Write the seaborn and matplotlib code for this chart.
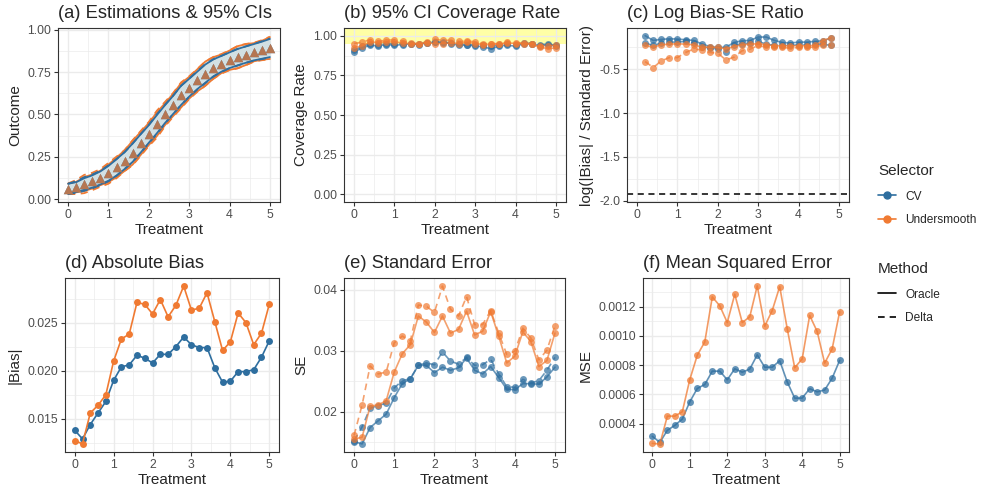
import numpy as np
import pandas as pd
import matplotlib.pyplot as plt
import seaborn as sns
from matplotlib.lines import Line2D
from matplotlib.ticker import MultipleLocator, FormatStrFormatter

# ---- data ----
treatment = [0.0, 0.2, 0.4, 0.6, 0.8, 1.0, 1.2, 1.4, 1.6, 1.8, 2.0, 2.2, 2.4,
             2.6, 2.8, 3.0, 3.2, 3.4, 3.6, 3.8, 4.0, 4.2, 4.4, 4.6, 4.8, 5.0]
selectors = ["CV", "Undersmooth"]
methods = ["Oracle", "Delta"]

estimate = [0.062, 0.072, 0.090, 0.105, 0.126, 0.153, 0.188, 0.228, 0.275, 0.330, 0.385, 0.443, 0.502,
            0.556, 0.613, 0.658, 0.701, 0.741, 0.775, 0.799, 0.820, 0.838, 0.853, 0.867, 0.879, 0.892]

cov_cv_oracle = [0.899, 0.924, 0.941, 0.937, 0.945, 0.941, 0.945, 0.950, 0.945, 0.956, 0.960, 0.958, 0.952,
                 0.941, 0.941, 0.937, 0.931, 0.918, 0.937, 0.941, 0.935, 0.950, 0.950, 0.937, 0.943, 0.937]
cov_cv_delta = [0.908, 0.935, 0.950, 0.945, 0.952, 0.950, 0.952, 0.948, 0.950, 0.958, 0.962, 0.960, 0.956,
                0.948, 0.945, 0.943, 0.941, 0.935, 0.943, 0.948, 0.945, 0.954, 0.952, 0.945, 0.948, 0.941]
cov_us_oracle = [0.926, 0.937, 0.962, 0.958, 0.962, 0.962, 0.956, 0.950, 0.948, 0.958, 0.952, 0.952, 0.956,
                 0.952, 0.960, 0.952, 0.945, 0.948, 0.947, 0.956, 0.952, 0.950, 0.948, 0.929, 0.920, 0.924]
cov_us_delta = [0.952, 0.960, 0.977, 0.966, 0.973, 0.975, 0.968, 0.954, 0.952, 0.962, 0.979, 0.971, 0.973,
                0.966, 0.966, 0.964, 0.950, 0.952, 0.950, 0.960, 0.958, 0.954, 0.952, 0.935, 0.937, 0.941]

nan = np.nan
ratio_cv_oracle = [nan, -0.118, -0.172, -0.160, -0.153, -0.156, -0.164, -0.172, -0.210, -0.241, -0.252, -0.250, -0.195,
                   -0.176, -0.172, -0.133, -0.133, -0.172, -0.195, -0.202, -0.191, -0.191, -0.183, -0.176, -0.145, nan]
ratio_cv_delta = [nan, -0.202, -0.229, -0.202, -0.191, -0.191, -0.183, -0.202, -0.241, -0.260, -0.267, -0.298, -0.229,
                  -0.210, -0.202, -0.183, -0.214, -0.229, -0.229, -0.229, -0.221, -0.221, -0.214, -0.214, -0.229, nan]
ratio_us_oracle = [nan, -0.229, -0.248, -0.221, -0.214, -0.210, -0.214, -0.221, -0.248, -0.248, -0.252, -0.267, -0.241,
                   -0.221, -0.214, -0.210, -0.221, -0.233, -0.233, -0.233, -0.233, -0.233, -0.229, -0.176, -0.140, nan]
ratio_us_delta = [nan, -0.413, -0.481, -0.405, -0.367, -0.367, -0.309, -0.271, -0.279, -0.309, -0.317, -0.394, -0.363,
                  -0.290, -0.271, -0.229, -0.248, -0.252, -0.252, -0.260, -0.252, -0.252, -0.248, -0.221, -0.229, nan]
ratio_threshold = -1.923

bias_cv = [0.0138, 0.0129, 0.0144, 0.0156, 0.0168, 0.0190, 0.0204, 0.0206, 0.0216, 0.0213, 0.0208, 0.0217, 0.0217,
           0.0225, 0.0235, 0.0227, 0.0224, 0.0224, 0.0203, 0.0188, 0.0189, 0.0199, 0.0199, 0.0201, 0.0214, 0.0231]
bias_us = [0.0127, 0.0124, 0.0156, 0.0164, 0.0175, 0.0210, 0.0233, 0.0238, 0.0271, 0.0269, 0.0259, 0.0274, 0.0256,
           0.0268, 0.0288, 0.0263, 0.0265, 0.0281, 0.0251, 0.0221, 0.0230, 0.0260, 0.0250, 0.0227, 0.0239, 0.0269]

se_cv_oracle = [0.0151, 0.0147, 0.0174, 0.0185, 0.0196, 0.0223, 0.0246, 0.0254, 0.0276, 0.0276, 0.0264, 0.0273, 0.0268,
                0.0272, 0.0288, 0.0268, 0.0262, 0.0274, 0.0256, 0.0237, 0.0236, 0.0246, 0.0246, 0.0245, 0.0257, 0.0273]
se_cv_delta = [0.0152, 0.0175, 0.0206, 0.0210, 0.0214, 0.0239, 0.0251, 0.0254, 0.0276, 0.0280, 0.0277, 0.0298, 0.0283,
               0.0278, 0.0289, 0.0276, 0.0277, 0.0286, 0.0262, 0.0241, 0.0240, 0.0253, 0.0247, 0.0251, 0.0268, 0.0289]
se_us_oracle = [0.0155, 0.0158, 0.0209, 0.0211, 0.0218, 0.0265, 0.0295, 0.0310, 0.0357, 0.0347, 0.0330, 0.0357, 0.0329,
                0.0335, 0.0365, 0.0326, 0.0332, 0.0364, 0.0324, 0.0280, 0.0291, 0.0331, 0.0315, 0.0274, 0.0284, 0.0329]
se_us_delta = [0.0161, 0.0211, 0.0275, 0.0262, 0.0265, 0.0313, 0.0324, 0.0316, 0.0375, 0.0373, 0.0363, 0.0406, 0.0368,
               0.0357, 0.0389, 0.0343, 0.0343, 0.0366, 0.0329, 0.0294, 0.0299, 0.0337, 0.0321, 0.0285, 0.0301, 0.0341]

mse_cv = [0.000314, 0.000273, 0.000355, 0.000389, 0.000432, 0.000550, 0.000641, 0.000668, 0.000759, 0.000759,
          0.000700, 0.000775, 0.000752, 0.000773, 0.000870, 0.000786, 0.000786, 0.000830, 0.000686, 0.000575,
          0.000575, 0.000639, 0.000618, 0.000630, 0.000711, 0.000832]
mse_us = [0.000266, 0.000261, 0.000452, 0.000452, 0.000482, 0.000702, 0.000868, 0.000959, 0.001266, 0.001205,
          0.001091, 0.001284, 0.001091, 0.001130, 0.001341, 0.001066, 0.001173, 0.001336, 0.001050, 0.000782,
          0.000843, 0.001139, 0.001030, 0.000814, 0.000911, 0.001164]

# ---- style ----
sns.set_style("whitegrid")
plt.rcParams["font.family"] = ["Liberation Sans", "DejaVu Sans"]
plt.rcParams["axes.unicode_minus"] = False

palette = {"CV": "#2E6E9F", "Undersmooth": "#F07A32"}
dashes = {"Oracle": "", "Delta": (4, 3)}


def to_long(series, name):
    frames = []
    for (sel, meth), ys in series.items():
        frames.append(pd.DataFrame({"Treatment": treatment, name: ys,
                                    "Selector": sel, "Method": meth}))
    return pd.concat(frames, ignore_index=True)


def style_axis(ax, title, ylabel, ymajor, fmt):
    ax.set_title(title, loc="left", fontsize=13.2, pad=7)
    ax.set_xlabel("Treatment", fontsize=11, labelpad=2)
    ax.set_ylabel(ylabel, fontsize=11)
    ax.set_xlim(-0.25, 5.25)
    ax.xaxis.set_major_locator(MultipleLocator(1))
    ax.xaxis.set_minor_locator(MultipleLocator(0.5))
    ax.yaxis.set_major_locator(MultipleLocator(ymajor))
    ax.yaxis.set_minor_locator(MultipleLocator(ymajor / 2))
    ax.yaxis.set_major_formatter(FormatStrFormatter(fmt))
    ax.grid(True, which="major", color="#EBEBEB", lw=1.0)
    ax.grid(True, which="minor", color="#EBEBEB", lw=0.5)
    ax.set_axisbelow(True)
    ax.tick_params(which="major", length=2.75, width=0.8, color="#333333",
                   labelsize=8.8, labelcolor="#4D4D4D", pad=2,
                   left=True, bottom=True)
    ax.tick_params(which="minor", length=0)
    for sp in ax.spines.values():
        sp.set_color("#333333")
        sp.set_linewidth(0.8)


def draw_lines(ax, df, y, alpha=0.75, with_style=True):
    sns.lineplot(data=df, x="Treatment", y=y, hue="Selector", hue_order=selectors,
                 style="Method" if with_style else None,
                 style_order=methods if with_style else None,
                 dashes=dashes if with_style else True,
                 palette=palette, marker="o", markersize=5, markeredgewidth=0,
                 linewidth=1.2, alpha=alpha, errorbar=None, legend=False, ax=ax)


fig = plt.figure(figsize=(9.82, 4.9), dpi=100)
W, H = 982, 490


def add_axes(left, top, right, bottom):
    return fig.add_axes([left / W, 1 - bottom / H, (right - left) / W, (bottom - top) / H])


ax_a = add_axes(58, 28, 280, 202)
ax_b = add_axes(344, 28, 566, 202)
ax_c = add_axes(627, 28, 849, 202)
ax_d = add_axes(65, 278, 279, 452)
ax_e = add_axes(344, 278, 565, 452)
ax_f = add_axes(643, 278, 849, 452)

# (a) estimates with 95% CIs (estimate +/- 1.96 SE)
est = np.array(estimate)
se_map = {("CV", "Oracle"): se_cv_oracle, ("CV", "Delta"): se_cv_delta,
          ("Undersmooth", "Oracle"): se_us_oracle, ("Undersmooth", "Delta"): se_us_delta}
lower = {k: est - 1.96 * np.array(v) for k, v in se_map.items()}
upper = {k: est + 1.96 * np.array(v) for k, v in se_map.items()}
ax_a.fill_between(treatment, lower[("Undersmooth", "Oracle")], upper[("Undersmooth", "Oracle")],
                  color="#E0E8EA", lw=0)
ax_a.fill_between(treatment, lower[("CV", "Oracle")], upper[("CV", "Oracle")],
                  color="#D2E0E3", lw=0)
for bound in (lower, upper):
    dfb = to_long(bound, "Outcome")
    sns.lineplot(data=dfb, x="Treatment", y="Outcome", hue="Selector", hue_order=selectors[::-1],
                 style="Method", style_order=methods, dashes=dashes, palette=palette,
                 linewidth=1.3, errorbar=None, legend=False, ax=ax_a)
sns.scatterplot(x=treatment, y=estimate, color=palette["CV"], marker="^", s=46,
                linewidth=0, ax=ax_a, zorder=4)
sns.scatterplot(x=treatment, y=estimate, color=palette["Undersmooth"], marker="^", s=46,
                linewidth=0, alpha=0.7, ax=ax_a, zorder=5)
style_axis(ax_a, "(a) Estimations & 95% CIs", "Outcome", 0.25, "%.2f")
ax_a.set_ylim(-0.016, 1.01)

# (b) coverage
df_cov = to_long({("CV", "Oracle"): cov_cv_oracle, ("CV", "Delta"): cov_cv_delta,
                  ("Undersmooth", "Oracle"): cov_us_oracle, ("Undersmooth", "Delta"): cov_us_delta},
                 "Coverage")
ax_b.axhspan(0.95, 1.06, color="#FFFF00", alpha=0.35, lw=0, zorder=0.5)
draw_lines(ax_b, df_cov, "Coverage", alpha=0.7)
style_axis(ax_b, "(b) 95% CI Coverage Rate", "Coverage Rate", 0.25, "%.2f")
ax_b.set_ylim(-0.05, 1.05)

# (c) log bias / SE ratio
df_ratio = to_long({("CV", "Oracle"): ratio_cv_oracle, ("CV", "Delta"): ratio_cv_delta,
                    ("Undersmooth", "Oracle"): ratio_us_oracle, ("Undersmooth", "Delta"): ratio_us_delta},
                   "Ratio").dropna()
draw_lines(ax_c, df_ratio, "Ratio", alpha=0.7)
ax_c.axhline(ratio_threshold, color="black", lw=1.1, dashes=(4, 3))
style_axis(ax_c, "(c) Log Bias-SE Ratio", "log(|Bias| / Standard Error)", 0.5, "%.1f")
ax_c.set_ylim(-2.014, -0.03)

# (d) absolute bias
df_bias = to_long({("CV", "Oracle"): bias_cv, ("Undersmooth", "Oracle"): bias_us}, "Bias")
draw_lines(ax_d, df_bias, "Bias", alpha=1.0, with_style=False)
style_axis(ax_d, "(d) Absolute Bias", "|Bias|", 0.005, "%.3f")
ax_d.set_ylim(0.01154, 0.02964)

# (e) standard error
df_se = to_long(se_map, "SE")
draw_lines(ax_e, df_se, "SE", alpha=0.7)
style_axis(ax_e, "(e) Standard Error", "SE", 0.01, "%.2f")
ax_e.set_ylim(0.01338, 0.04194)

# (f) MSE
df_mse = to_long({("CV", "Oracle"): mse_cv, ("Undersmooth", "Oracle"): mse_us}, "MSE")
draw_lines(ax_f, df_mse, "MSE", alpha=0.75, with_style=False)
style_axis(ax_f, "(f) Mean Squared Error", "MSE", 0.0002, "%.4f")
ax_f.set_ylim(0.000207, 0.001395)

# legends
sel_handles = [Line2D([], [], color=palette[s], marker="o", ms=5, lw=1.2) for s in selectors]
meth_handles = [Line2D([], [], color="black", lw=1.2, dashes=(4, 3) if m == "Delta" else (None, None))
                for m in methods]
legend_kw = dict(loc="upper left", frameon=False, fontsize=8.6, title_fontsize=11,
                 handlelength=1.5, handletextpad=0.8, labelspacing=0.95,
                 borderpad=0, borderaxespad=0, alignment="left")
leg1 = fig.legend(sel_handles, selectors, title="Selector",
                  bbox_to_anchor=(878 / W, 1 - 164 / H), **legend_kw)
leg2 = fig.legend(meth_handles, methods, title="Method",
                  bbox_to_anchor=(878 / W, 1 - 262 / H), **legend_kw)
for leg in (leg1, leg2):
    leg._legend_box.sep = 9

fig.savefig("out.png", dpi=100)
